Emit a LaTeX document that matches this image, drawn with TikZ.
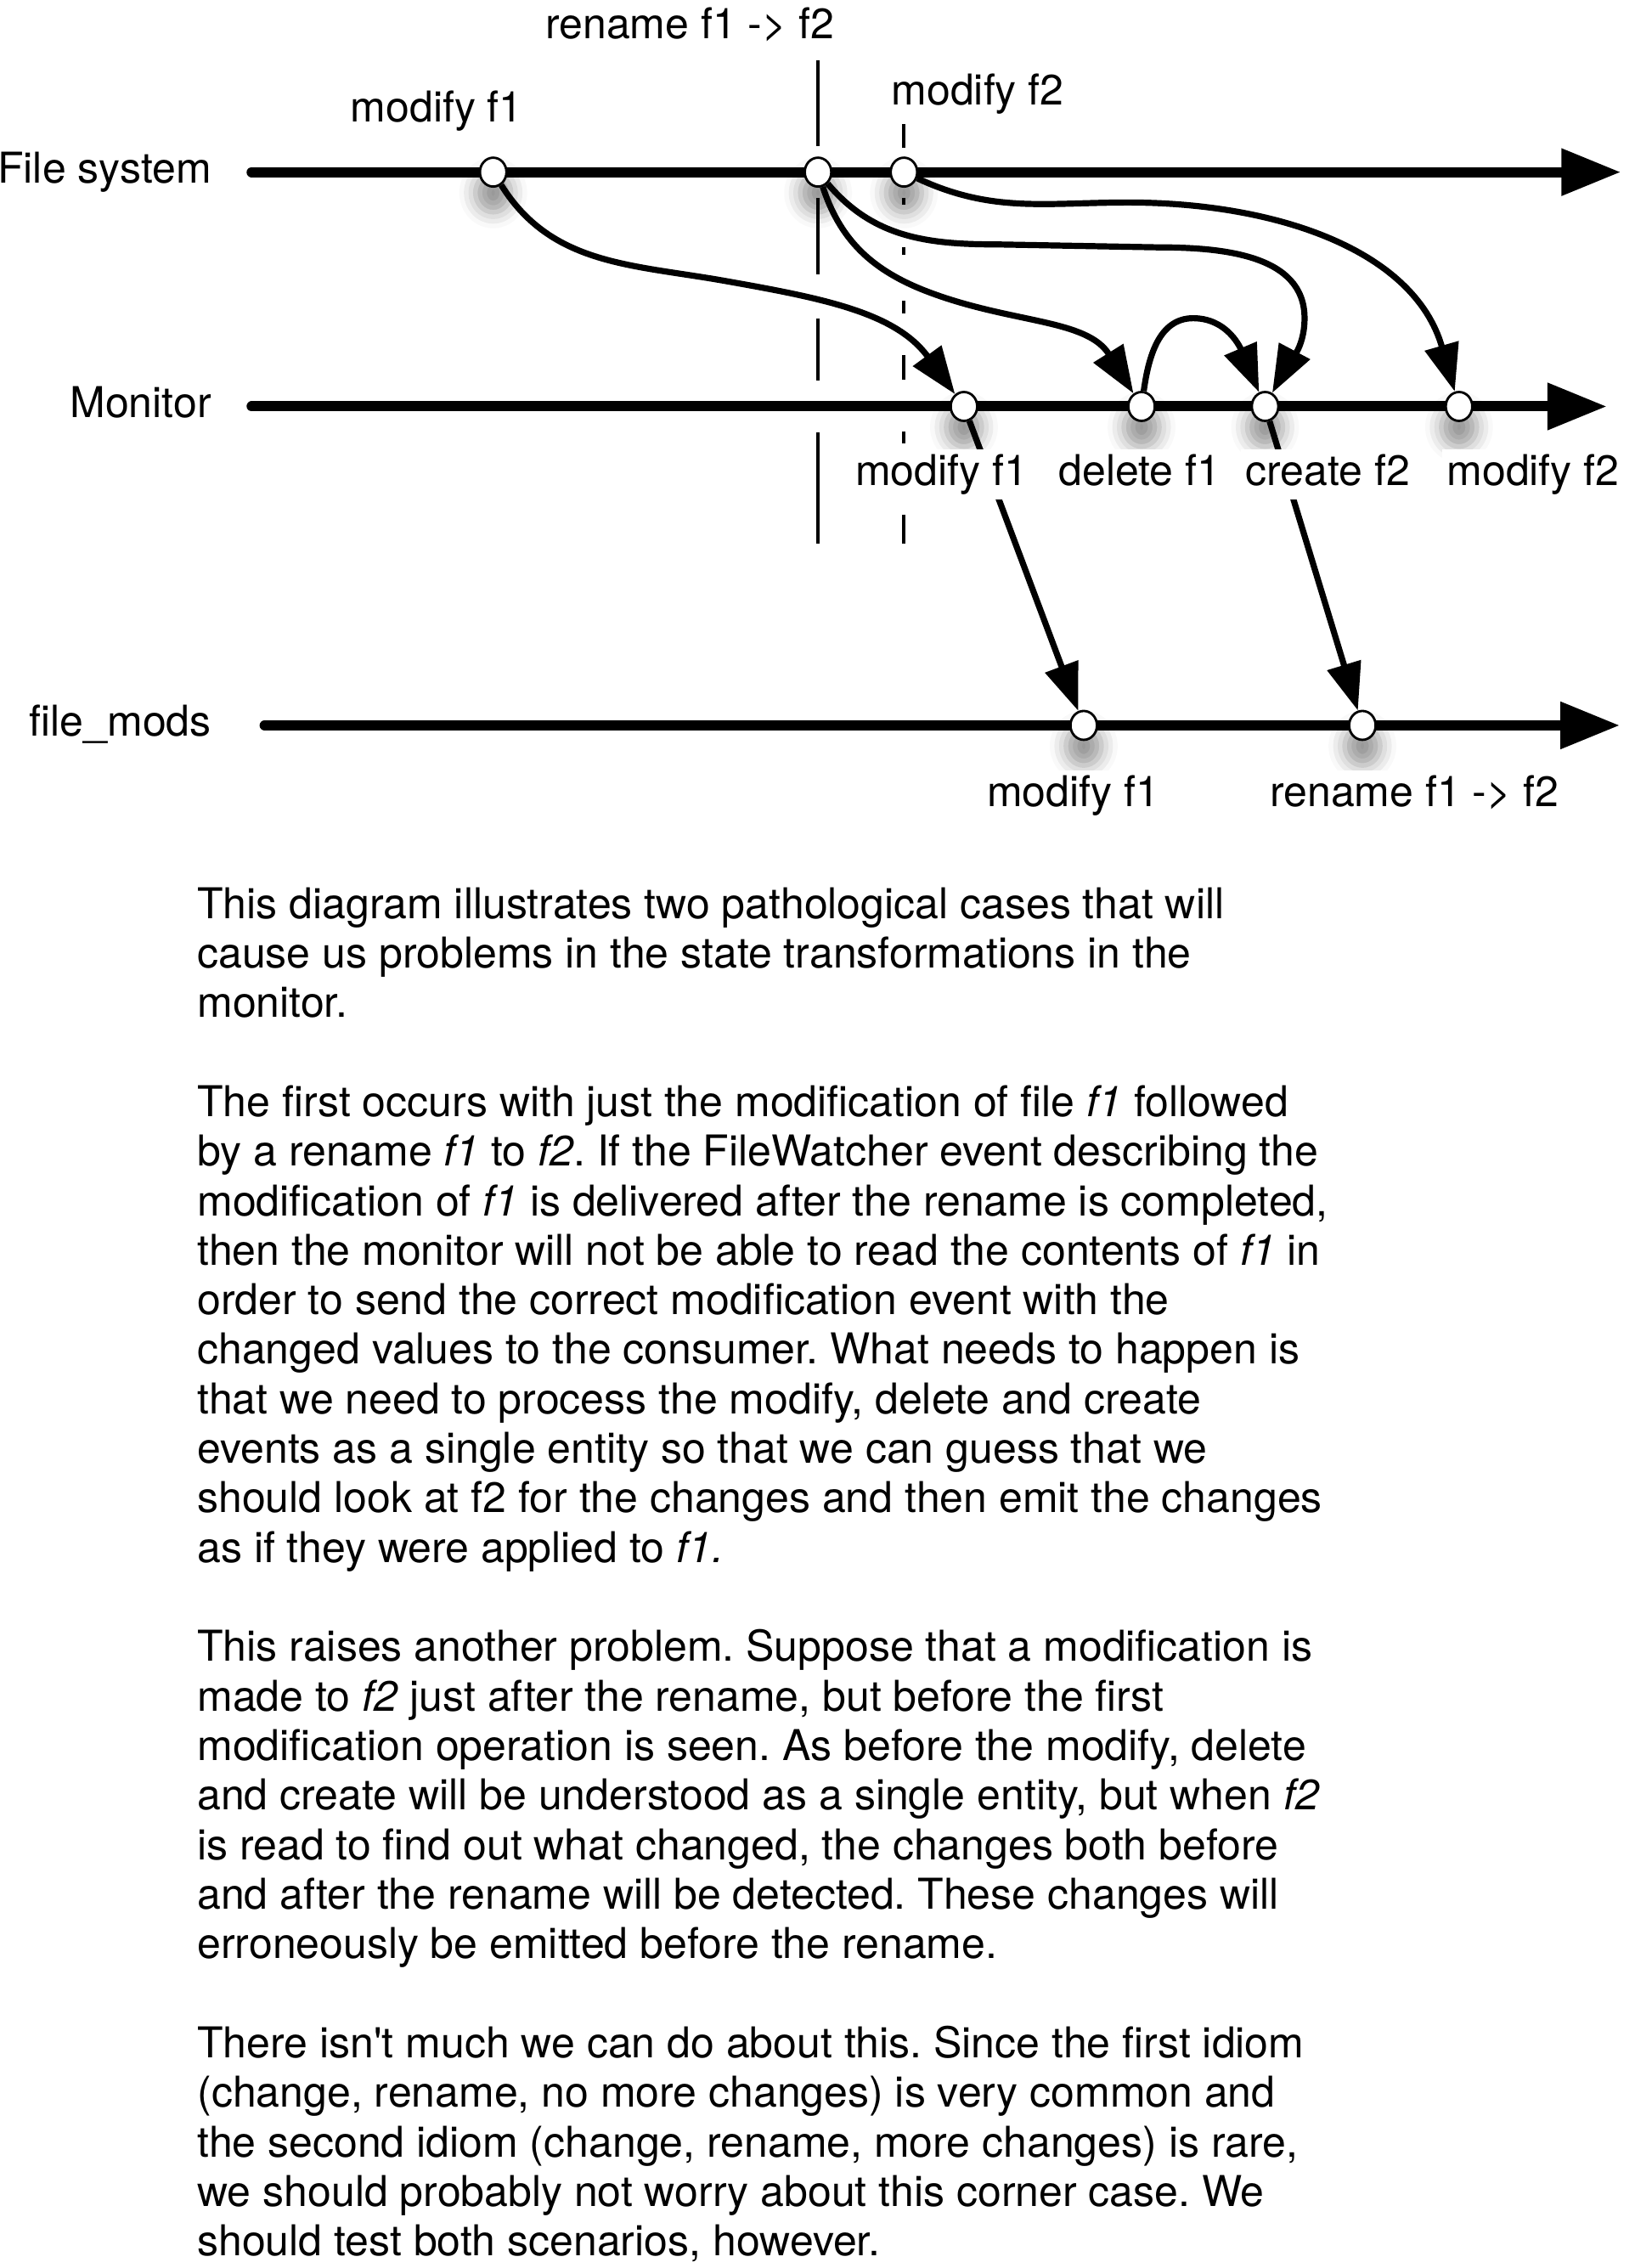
\documentclass[tikz,border=0pt]{standalone}
\usepackage{fontspec}
\setmainfont{TeX Gyre Heros}[Ligatures=TeXOff]
\usepackage{tikz}
\usetikzlibrary{arrows.meta, shapes.geometric, shadows.blur}
\frenchspacing

\tikzset{
  timeline/.style={line width=3pt, line cap=round, -{Triangle[length=17.5pt,width=13.2pt]}},
  flow/.style={line width=1.8pt, -{Triangle[length=14pt,width=10pt]}},
  ev/.style={ellipse, draw, line width=0.7pt, fill=white, inner sep=0pt,
    minimum width=7.8pt, minimum height=8.5pt,
    blur shadow={shadow xshift=0pt, shadow yshift=-4.5pt, shadow scale=1.35,
      shadow blur radius=3.5pt, shadow opacity=40}},
  lbl/.style={fill=white, inner sep=1.5pt, text height=9pt, text depth=2.6pt,
    font=\fontsize{12.5}{15}\selectfont},
}

\begin{document}
\begin{tikzpicture}[x=0.4257pt, y=0.4257pt]
\useasboundingbox (0,0) rectangle (1130,-1568);

\node[lbl, anchor=east] (fsName) at (150,-119) {File system};
\node[lbl, anchor=east] (monName) at (150,-281) {Monitor};
\node[lbl, anchor=east] (modsName) at (150,-501.5) {file\_mods};

\coordinate (fsStart) at (174,-119);
\coordinate (fsEnd) at (1120.7,-119);
\coordinate (monStart) at (174,-281);
\coordinate (monEnd) at (1111,-281);
\coordinate (modsStart) at (183,-501.5);
\coordinate (modsEnd) at (1120,-501.5);
\draw[timeline] (fsStart) -- (fsEnd);
\draw[timeline] (monStart) -- (monEnd);
\draw[timeline] (modsStart) -- (modsEnd);

% rename and late modify markers
\coordinate (renTop) at (565.6,-41.5);
\coordinate (renBot) at (565.6,-376);
\coordinate (latTop) at (624.8,-86);
\coordinate (latBot) at (624.8,-376);
\draw[line width=0.9pt, dash pattern=on 25.3pt off 15.3pt on 22.6pt off 12.8pt on 18.3pt off 15.3pt on 33pt] (renTop) -- (renBot);
\draw[line width=0.9pt, dash pattern=on 6.8pt off 14.9pt on 1.9pt off 12.6pt on 2.1pt off 13.6pt on 3.8pt off 12.3pt on 7.2pt off 15.3pt on 3.4pt off 20.9pt on 9pt] (latTop) -- (latBot);

\foreach \n/\x/\y in {fsA/341/119, fsB/565.6/119, fsC/625/119,
    monA/666.5/281, monB/789.3/281, monC/874.7/281, monD/1008.8/281,
    modA/749.3/501.5, modB/942/501.5}
  \node[ev] (\n) at (\x,-\y) {};

\draw[flow] (fsA) to[out=-58,in=170] (500,-194) to[out=-10,in=126] (monA);
\draw[flow] (fsB) to[out=-72,in=160] (645,-203) to[out=-20,in=122] (monB);
\draw[flow] (fsB) to[out=-50,in=180] (690,-169) -- (800,-171) to[out=0,in=90] (902,-220) to[out=-90,in=62] (monC);
\draw[flow] (fsC) to[out=-25,in=180] (780,-140) to[out=0,in=106] (monD);
\draw[flow] (monB) to[out=82,in=180] (825,-220) to[out=0,in=113] (monC);
\draw[flow] (monA) -- (modA);
\draw[flow] (monC) -- (modB);

\node[lbl] (renLbl) at (477,-19) {rename f1 -> f2};
\node[lbl] (fsModA) at (302,-77) {modify f1};
\node[lbl] (fsModC) at (676,-65) {modify f2};
\foreach \n/\x/\t in {monLA/651/modify f1, monLB/788/delete f1, monLC/918/create f2, monLD/1060/modify f2}
  \node[lbl] (\n) at (\x,-328) {\t};
\node[lbl] (modLA) at (742,-550) {modify f1};
\node[lbl] (modLB) at (978,-550) {rename f1 -> f2};

\node[anchor=north west, inner sep=0pt, align=left, font=\fontsize{12.5}{14.58}\selectfont] (notes) at (136,-613) {%
This diagram illustrates two pathological cases that will\\
cause us problems in the state transformations in the\\
monitor.\\[14.58pt]
The first occurs with just the modification of file \textit{f1} followed\\
by a rename \textit{f1} to \textit{f2}. If the FileWatcher event describing the\\
modification of \textit{f1} is delivered after the rename is completed,\\
then the monitor will not be able to read the contents of \textit{f1} in\\
order to send the correct modification event with the\\
changed values to the consumer. What needs to happen is\\
that we need to process the modify, delete and create\\
events as a single entity so that we can guess that we\\
should look at f2 for the changes and then emit the changes\\
as if they were applied to \textit{f1.}\\[14.58pt]
This raises another problem. Suppose that a modification is\\
made to \textit{f2} just after the rename, but before the first\\
modification operation is seen. As before the modify, delete\\
and create will be understood as a single entity, but when \textit{f2}\\
is read to find out what changed, the changes both before\\
and after the rename will be detected. These changes will\\
erroneously be emitted before the rename.\\[14.58pt]
There isn't much we can do about this. Since the first idiom\\
(change, rename, no more changes) is very common and\\
the second idiom (change, rename, more changes) is rare,\\
we should probably not worry about this corner case. We\\
should test both scenarios, however.};
\end{tikzpicture}
\end{document}
